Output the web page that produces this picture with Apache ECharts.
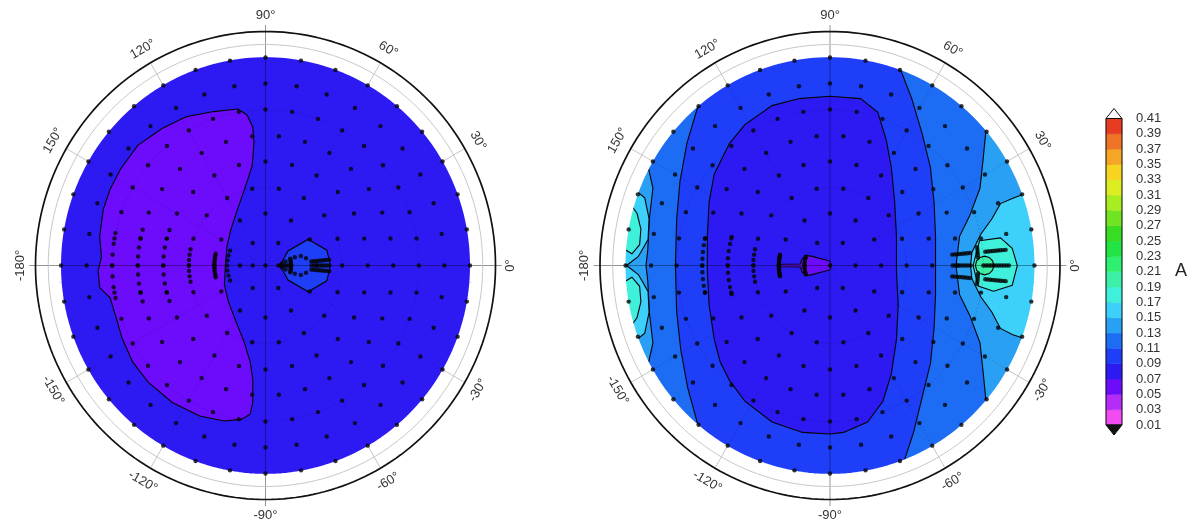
<!DOCTYPE html>
<html>
<head>
<meta charset="utf-8">
<script src="https://cdn.jsdelivr.net/npm/echarts@6/dist/echarts.min.js"></script>
<style>
  html, body { margin: 0; padding: 0; background: #fff; }
  #chart { width: 1199px; height: 529px; }
</style>
</head>
<body>
<div id="chart"></div>
<script>
// ---------- colour scale (A) ----------
const levels = ['0.01','0.03','0.05','0.07','0.09','0.11','0.13','0.15','0.17','0.19','0.21',
                '0.23','0.25','0.27','0.29','0.31','0.33','0.35','0.37','0.39','0.41'];
const binColors = ['#f04cf2','#b42cf8','#6c0cfb','#2d1af3','#1e3ef8','#1d6df4','#2aa0f4','#3cd0fa',
                   '#3ff0da','#3cf0a8','#2ef070','#22e444','#38dc22','#70e420','#a8ec22','#dcee22',
                   '#f6d420','#f4a624','#ee7426','#e63c22'];

// ---------- sampling grid ----------
// rings of constant zenith angle (deg) and their azimuth spacing (deg)
const ringZenith = [0, 10, 20, 30, 40, 50, 60, 70, 80];
const ringStep   = [360, 60, 30, 20, 15, 12, 10, 10, 10];
// denser arcs: [zenith, azimuth from, azimuth to, azimuth step]
const leftArcs  = [[60,168,192,4],[50,164,196,4],[40,160,200,5],[30,168,192,4],[20,167,193,2],
                   [15,157.5,202.5,7.5],[10,-15,15,3]];
const rightArcs = [[50,168,192,3],[40,164,196,4],[30,168,192,4],[20,168,192,1.5],[10,160,200,4],
                   [58,3,7,1],[58,-7,-3,1]];
// radial runs: [azimuth, zenith from, zenith to, zenith step]
const leftRuns  = [[-5,18,25,1],[0,18,25,1],[5,18,25,1]];
const rightRuns = [[-5,48,55,1],[0,48,55,1],[5,48,55,1],[-5,61,69,1],[0,61,69,1],[5,61,69,1]];
// single extra samples: [azimuth, zenith]
const leftPts   = [[180,5],[0,5],[0,6],[0,7],[0,8],[0,9],[7,6.5],[-7,6.5],[11,8],[-11,8],
                   [15.5,11.9],[14.8,14.3],[10,16.1],[-15.5,11.9],[-14.8,14.3],[-10,16.1]];
const rightPts  = [];

// ---------- filled contour bands ----------
// bin = index into binColors; vertices in projected zenith degrees [x, y]
const leftKidney = [[-10.8,60.2],[-20.3,59.2],[-31.1,57.2],[-40.5,52.7],[-50.0,46.2],[-56.7,37.1],
  [-60.8,29.3],[-63.5,21.5],[-64.9,11.1],[-64.2,3.3],[-65.5,-2.0],[-64.9,-8.5],[-60.8,-12.4],
  [-58.8,-18.9],[-56.1,-28.0],[-52.0,-37.1],[-45.9,-44.9],[-36.5,-52.7],[-25.7,-57.9],[-16.2,-59.8],
  [-9.5,-59.2],[-6.0,-57.2],[-5.0,-52.7],[-5.0,-43.6],[-6.0,-37.1],[-8.4,-29.3],[-11.6,-21.5],
  [-14.6,-13.7],[-16.1,-7.2],[-15.7,0],[-15.1,7.2],[-13.6,13.7],[-11.0,21.5],[-8.2,29.3],
  [-5.2,38.4],[-4.5,47.5],[-5.0,53.3],[-7.2,57.9]];
const leftHex = [[16.7,10.1],[24,5.9],[25.4,0],[24,-5.9],[16.7,-10.1],[8.8,-5.6],[5.7,0],[8.8,5.6]];

const rightBandA = [[-48,68.8],[-52,60.2],[-56,47],[-58.7,32.4],[-60,17.9],[-60.5,0],[-60,-17.9],
  [-58.4,-32.4],[-55.7,-47],[-52,-60.2],[-48,-68.8],[-30,-83],[0,-88],[20,-85],
  [28.7,-76.1],[32.7,-64.2],[36,-50.9],[39.3,-37.7],[40.7,-24.5],[41.3,-11.2],[41.3,0],[41.3,11.2],
  [40.7,24.5],[39.3,37.7],[36,50.9],[32,64.2],[27.3,76.1],[20,85],[0,88],[-30,83]];
const rightOval = [[0,65.1],[12,64.2],[18.7,58.9],[22,48.3],[24,37.7],[25.3,24.5],[26,11.2],[26,-2],
  [26.7,-15.2],[26,-28.4],[24,-41.7],[20.7,-52.2],[14.7,-60.2],[5.3,-64.2],[0,-64.8],[-10.7,-64.2],
  [-22.7,-60.2],[-33.3,-52.2],[-39.3,-44.3],[-43,-37],[-45.3,-28.4],[-47.3,-15.2],[-48,-2],[-48,11.2],
  [-47.3,24.5],[-45.3,35.1],[-39.3,47],[-33.3,54.2],[-22.7,61.5],[-12,64.2]];
const rightPin = [[-20,0.5],[-11.5,0.6],[-11,2.4],[-9.5,3.9],[-7,3.5],[0,1.7],[0.4,0],[0,-1.7],
  [-7,-3.5],[-9.5,-3.9],[-11,-2.4],[-11.5,-0.6],[-20,-0.5]];
const rightWestC = [[-72,41.7],[-69.3,29.8],[-70.7,17.9],[-71.3,6],[-72,0],[-71.3,-6],[-70.7,-17.9],
  [-69.3,-29.8],[-72,-41.7],[-85,-20],[-88,0],[-85,20]];
const rightWestD1 = [[-80,32],[-72.5,26],[-70.8,18],[-71.2,10],[-75,3.5],[-79.6,0],[-87,4],[-86,24]];
const rightWestD2 = [[-80,-32],[-72.5,-26],[-70.8,-18],[-71.2,-10],[-75,-3.5],[-79.6,0],[-87,-4],[-86,-24]];
const rightWestE1 = [[-79,25],[-75.5,20],[-74,14],[-74.5,8],[-77.5,4.5],[-85,9],[-84,22]];
const rightWestE2 = [[-79,-25],[-75.5,-20],[-74,-14],[-74.5,-8],[-77.5,-4.5],[-85,-9],[-84,-22]];
const rightEastC = [[61.3,54.9],[60,41.7],[58.7,29.8],[54.7,19.2],[50.7,11.2],[49.3,0],[50.7,-11.2],
  [54.7,-19.2],[58.7,-29.8],[60,-41.7],[61.3,-54.9],[76,-40],[86,0],[76,40]];
const rightEastD = [[76.7,27.8],[71.3,25.8],[66.7,23.8],[63.3,17.9],[59,12],[55.5,5],[55,0],[55.5,-5],
  [59,-12],[63.3,-17.9],[66.7,-24.2],[71.3,-26.5],[76.3,-28.2],[88,-10],[88,10]];
const rightHex = [[58.5,9.5],[66.7,10.6],[71.3,6.6],[73.3,0],[71.3,-7.6],[64,-9.9],[58,-7.9],[56,0]];
const rightCore = [[64.1,0],[63.62,1.8],[62.3,3.12],[60.5,3.6],[58.7,3.12],[57.38,1.8],[56.9,0],
  [57.38,-1.8],[58.7,-3.12],[60.5,-3.6],[62.3,-3.12],[63.62,-1.8]];

const leftRegions = [
  { bin: 3, pts: 'disk' },
  { bin: 2, pts: leftKidney },
  { bin: 4, pts: leftHex }
];
const rightRegions = [
  { bin: 5, pts: 'disk' },
  { bin: 4, pts: rightBandA },
  { bin: 3, pts: rightOval },
  { bin: 2, pts: rightPin },
  { bin: 6, pts: rightWestC },
  { bin: 7, pts: rightWestD1 },
  { bin: 7, pts: rightWestD2 },
  { bin: 8, pts: rightWestE1 },
  { bin: 8, pts: rightWestE2 },
  { bin: 6, pts: rightEastC },
  { bin: 7, pts: rightEastD },
  { bin: 8, pts: rightHex },
  { bin: 9, pts: rightCore }
];

// azimuth graticule / labels
const angleTicks = [0, 30, 60, 90, 120, 150, -180, -150, -120, -90, -60, -30];
const gridCircles = [30, 60];

// ---------- helpers ----------
const D2R = Math.PI / 180;
function proj(az, zen) { return [zen * Math.cos(az * D2R), zen * Math.sin(az * D2R)]; }
function ring(zen, n) { const p = []; for (let k = 0; k < n; k++) p.push(proj(360 * k / n, zen)); return p; }
function seg(p, q) { return { x1: p[0], y1: p[1], x2: q[0], y2: q[1] }; }
function fmtAngle(a) { return (a < 0 ? '-' : '') + Math.abs(a) + '\u00b0'; }

function sampleDots(arcs, runs, pts) {
  const out = [];
  ringZenith.forEach((z, i) => {
    if (z === 0) { out.push([0, 0]); return; }
    for (let a = 0; a < 360 - 1e-9; a += ringStep[i]) out.push(proj(a, z));
  });
  arcs.forEach(([z, a0, a1, s]) => { for (let a = a0; a <= a1 + 1e-9; a += s) out.push(proj(a, z)); });
  runs.forEach(([a, z0, z1, s]) => { for (let z = z0; z <= z1 + 1e-9; z += s) out.push(proj(a, z)); });
  pts.forEach(([a, z]) => out.push(proj(a, z)));
  return out;
}

function fillSeries(regions, gi) {
  return {
    type: 'custom', xAxisIndex: gi, yAxisIndex: gi, z: 1, silent: true, clip: false,
    data: regions.map(() => [0, 0]),
    renderItem(params, api) {
      const r = regions[params.dataIndex];
      const isDisk = r.pts === 'disk';
      const pts = (isDisk ? ring(88, 144) : r.pts).map(p => api.coord(p));
      return {
        type: 'polygon', shape: { points: pts },
        style: { fill: binColors[r.bin], stroke: isDisk ? null : '#050505', lineWidth: 1.1 }
      };
    }
  };
}

function frameSeries(gi) {
  return {
    type: 'custom', xAxisIndex: gi, yAxisIndex: gi, z: 2, silent: true, clip: false,
    data: [[0, 0]],
    renderItem(params, api) {
      const C = p => api.coord(p);
      const poly = (zen, n) => ring(zen, n).map(C);
      const kids = [];
      // white band between the sampled disk and the outer frame
      kids.push({ type: 'polygon', shape: { points: poly(85.5, 240) },
                  style: { fill: null, stroke: '#ffffff', lineWidth: 28 } });
      // faint graticule over the fill
      gridCircles.forEach(z => kids.push({ type: 'polygon', shape: { points: poly(z, 120) },
        style: { fill: null, stroke: 'rgba(0,0,60,0.22)', lineWidth: 0.7, lineDash: [2, 2] } }));
      angleTicks.forEach(a => {
        const major = a % 90 === 0;
        kids.push({ type: 'line', shape: seg(C(proj(a, 0)), C(proj(a, 80))),
          style: { stroke: major ? 'rgba(0,0,0,0.45)' : 'rgba(0,0,60,0.22)', lineWidth: major ? 0.8 : 0.7,
                   lineDash: major ? null : [2, 2] } });
        kids.push({ type: 'line', shape: seg(C(proj(a, 80)), C(proj(a, major ? 92.5 : 90))),
          style: { stroke: major ? '#7a7a7a' : '#b8b8b8', lineWidth: 0.8 } });
      });
      kids.push({ type: 'polygon', shape: { points: poly(85, 240) },
                  style: { fill: null, stroke: '#c8c8c8', lineWidth: 1 } });
      kids.push({ type: 'polygon', shape: { points: poly(90, 240) },
                  style: { fill: null, stroke: '#111', lineWidth: 1.7 } });
      return { type: 'group', children: kids };
    }
  };
}

function dotSeries(gi, dots) {
  return {
    type: 'scatter', xAxisIndex: gi, yAxisIndex: gi, z: 3, silent: true, clip: false,
    symbol: 'circle', symbolSize: 4.4, itemStyle: { color: '#050505' }, data: dots
  };
}

function labelSeries(gi) {
  return {
    type: 'custom', xAxisIndex: gi, yAxisIndex: gi, z: 4, silent: true, clip: false,
    data: angleTicks.map(() => [0, 0]),
    renderItem(params, api) {
      const a = angleTicks[params.dataIndex];
      const p = api.coord(proj(a, 96));
      let rot = a > 0 ? a - 90 : a + 90;
      if (rot <= -90) rot += 180;
      return {
        type: 'text', x: p[0], y: p[1], rotation: rot * D2R,
        style: { text: fmtAngle(a), fill: '#333', font: '13px "Liberation Sans", Arial, sans-serif',
                 align: 'center', verticalAlign: 'middle' }
      };
    }
  };
}

// ---------- colour bar ----------
const barSeries = {
  type: 'custom', xAxisIndex: 2, yAxisIndex: 2, z: 2, silent: true, clip: false,
  data: binColors.map((c, i) => [0, i]),
  renderItem(params, api) {
    const i = params.dataIndex;
    const p0 = api.coord([0, i]), p1 = api.coord([1, i + 1]);
    return { type: 'rect', shape: { x: p0[0], y: p1[1], width: p1[0] - p0[0], height: p0[1] - p1[1] },
             style: { fill: binColors[i], stroke: binColors[i], lineWidth: 0.5 } };
  }
};
const barFrame = {
  type: 'custom', xAxisIndex: 2, yAxisIndex: 2, z: 3, silent: true, clip: false,
  data: [[0, 0]],
  renderItem(params, api) {
    const lo = api.coord([0, 0]), hi = api.coord([1, levels.length - 1]);
    const xm = (lo[0] + hi[0]) / 2;
    return { type: 'group', children: [
      { type: 'polygon', shape: { points: [[lo[0], hi[1]], [xm, hi[1] - 10], [hi[0], hi[1]]] },
        style: { fill: '#fff', stroke: '#111', lineWidth: 1 } },
      { type: 'polygon', shape: { points: [[lo[0], lo[1]], [xm, lo[1] + 10], [hi[0], lo[1]]] },
        style: { fill: '#111', stroke: '#111', lineWidth: 1 } },
      { type: 'rect', shape: { x: lo[0], y: hi[1], width: hi[0] - lo[0], height: lo[1] - hi[1] },
        style: { fill: null, stroke: '#111', lineWidth: 1 } }
    ] };
  }
};

const hiddenAxis = (gi) => ({ gridIndex: gi, type: 'value', min: -90, max: 90, show: false });

const option = {
  animation: false,
  backgroundColor: '#ffffff',
  grid: [
    { left: 35.5, top: 31.5, width: 460, height: 468, outerBoundsMode: 'none' },
    { left: 600, top: 31.5, width: 460, height: 468, outerBoundsMode: 'none' },
    { left: 1106, top: 118.5, width: 16, height: 306.5, outerBoundsMode: 'none' }
  ],
  xAxis: [hiddenAxis(0), hiddenAxis(1), { gridIndex: 2, type: 'value', min: 0, max: 1, show: false }],
  yAxis: [hiddenAxis(0), hiddenAxis(1), {
    gridIndex: 2, type: 'value', min: 0, max: levels.length - 1, interval: 1, position: 'right',
    axisLine: { show: false }, splitLine: { show: false },
    axisTick: { show: true, length: 5, lineStyle: { color: '#222', width: 1 } },
    axisLabel: { formatter: v => levels[Math.round(v)], color: '#333', fontSize: 13,
                 fontFamily: '"Liberation Sans", Arial, sans-serif', margin: 14 }
  }],
  graphic: [{
    type: 'text', x: 1181, y: 271,
    style: { text: 'A', fill: '#222', font: '18px "Liberation Sans", Arial, sans-serif',
             align: 'center', verticalAlign: 'middle' }
  }],
  series: [
    fillSeries(leftRegions, 0), frameSeries(0), dotSeries(0, sampleDots(leftArcs, leftRuns, leftPts)), labelSeries(0),
    fillSeries(rightRegions, 1), frameSeries(1), dotSeries(1, sampleDots(rightArcs, rightRuns, rightPts)), labelSeries(1),
    barSeries, barFrame
  ]
};

const chart = echarts.init(document.getElementById('chart'), null, { renderer: 'canvas' });
chart.setOption(option);
</script>
</body>
</html>
